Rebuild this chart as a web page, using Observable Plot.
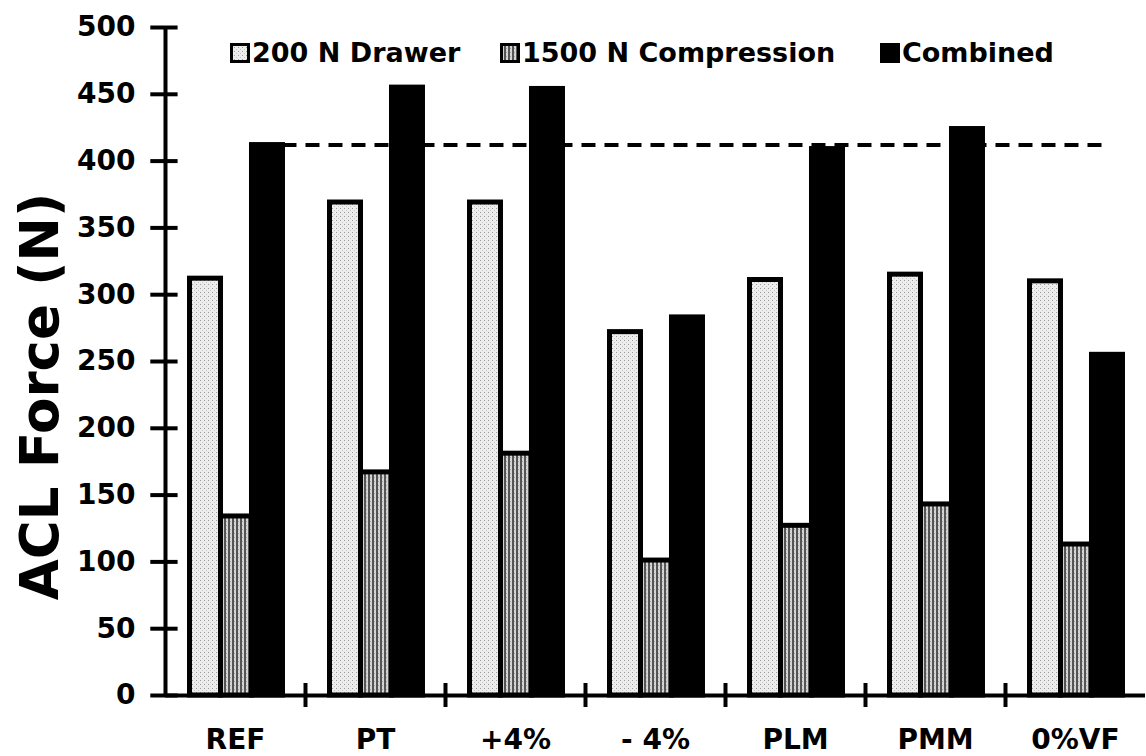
<!DOCTYPE html>
<html><head><meta charset="utf-8">
<script src="https://cdn.jsdelivr.net/npm/d3@7"></script>
<script src="https://cdn.jsdelivr.net/npm/@observablehq/plot@0.6"></script>
<style>
body{margin:0;background:#fff;}
#wrap{position:relative;width:1146px;height:756px;font-family:"DejaVu Sans",Arial,sans-serif;font-weight:bold;}
.legend-item{position:absolute;top:39px;height:27px;display:flex;align-items:center;font-size:27px;line-height:27px;color:#000;white-space:nowrap;}
.legend-item svg{margin-right:2px;}
</style></head><body>
<svg width="0" height="0" style="position:absolute">
<defs>
<pattern id="patDrawer" width="4" height="4" patternUnits="userSpaceOnUse">
 <rect width="4" height="4" fill="#ededed"/>
 <rect x="0" y="0" width="1" height="1" fill="#9a9a9a"/>
 <rect x="2" y="2" width="1" height="1" fill="#c4c4c4"/>
</pattern>
<pattern id="patComp" width="4" height="4" patternUnits="userSpaceOnUse">
 <rect width="4" height="4" fill="#d4d4d4"/>
 <rect x="0" y="0" width="2" height="4" fill="#555"/>
 <rect x="2" y="1" width="1" height="1" fill="#a8a8a8"/>
</pattern>
</defs></svg>
<div id="wrap"></div>
<script>
// ---- data ----
const categories = ["REF", "PT", "+4%", "- 4%", "PLM", "PMM", "0%VF"];
const series = ["200 N Drawer", "1500 N Compression", "Combined"];
const drawer      = [312, 369, 369, 272, 311, 315, 310];
const compression = [134, 167, 181, 101, 127, 143, 113];
const combined    = [412, 455, 454, 283, 409, 424, 255];
const yTicks = [0, 50, 100, 150, 200, 250, 300, 350, 400, 450, 500];
const refLevel = 412;
const yLabel = "ACL Force (N)";

// ---- build table ----
const valuesBySeries = [drawer, compression, combined];
const rows = categories.flatMap((c, ci) =>
  series.map((s, si) => ({cat: c, ci, s, si, value: valuesBySeries[si][ci]})));
const boundaries = categories.slice(1).map((_, i) => i + 1);

const off = 0.175, w = 0.2214;
const barX1 = d => d.ci + off + d.si * w;
const refX1 = off + series.length * w;
const refX2 = 6.72;

const plot = Plot.plot({
  width: 1146, height: 756,
  marginTop: 27, marginBottom: 61, marginLeft: 165, marginRight: 1,
  style: {fontFamily: "DejaVu Sans, Arial, sans-serif", fontSize: "28px", fontWeight: "bold", color: "#000", background: "#fff", overflow: "visible"},
  x: {type: "linear", domain: [0, categories.length], ticks: categories.map((_, i) => i + 0.5),
      tickFormat: d => categories[Math.floor(d)], tickSize: 0, tickPadding: 34, label: null},
  y: {domain: [0, 500], ticks: yTicks, tickSize: 0, tickPadding: 30, label: null},
  color: {type: "ordinal", domain: series, range: ["url(#patDrawer)", "url(#patComp)", "#000"]},
  marks: [
    Plot.ruleY([refLevel], {x1: refX1, x2: refX2, stroke: "#000", strokeWidth: 4, strokeDasharray: "14,9"}),
    Plot.rect(rows, {x1: barX1, x2: d => barX1(d) + w, y1: 0, y2: "value", fill: "s", stroke: "#000", strokeWidth: 5}),
    Plot.ruleX([0], {stroke: "#000", strokeWidth: 4}),
    Plot.ruleY([0], {stroke: "#000", strokeWidth: 4}),
    Plot.ruleY(yTicks, {x1: -0.105, x2: 0.09, stroke: "#000", strokeWidth: 4}),
    Plot.ruleX(boundaries, {y1: -9, y2: 9, stroke: "#000", strokeWidth: 4}),
    Plot.text([yLabel], {frameAnchor: "left", textAnchor: "middle", rotate: -90, dx: -124, dy: 35, fontSize: 53, fontWeight: "bold"})
  ]
});
const wrap = document.getElementById("wrap");
wrap.appendChild(plot);

// ---- legend (overlaid at top of plot area) ----
const legendLeft = [230, 500, 880];
const swatchFill = ["url(#patDrawer)", "url(#patComp)", "#000"];
series.forEach((s, i) => {
  const item = document.createElement("div");
  item.className = "legend-item";
  item.style.left = legendLeft[i] + "px";
  item.innerHTML = `<svg width="20" height="20"><rect x="1.5" y="1.5" width="17" height="17" fill="${swatchFill[i]}" stroke="#000" stroke-width="3"/></svg><span>${s}</span>`;
  wrap.appendChild(item);
});
</script>
</body></html>
